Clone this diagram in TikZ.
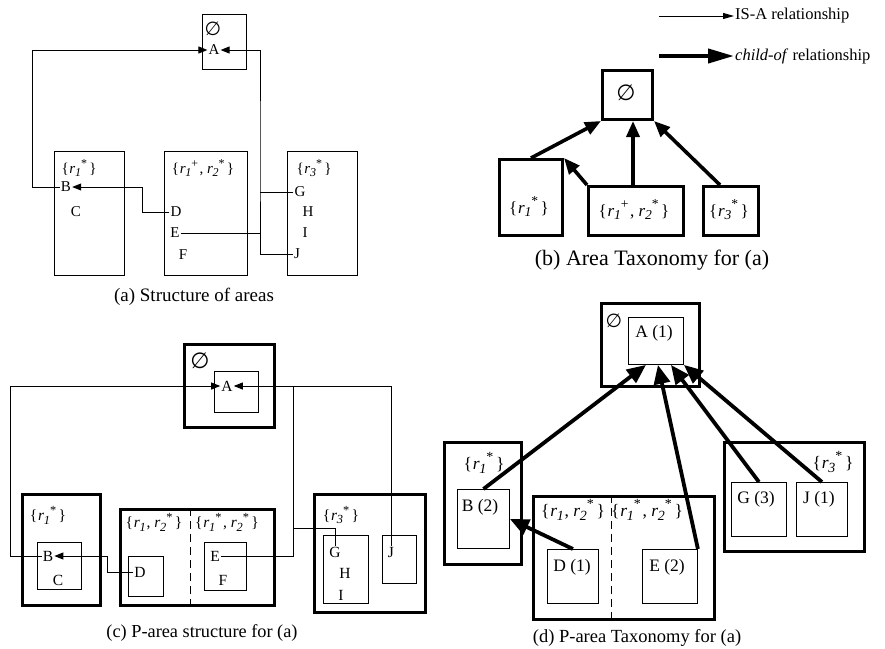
\documentclass[tikz,border=0pt]{standalone}
\usepackage{fontspec}
\setmainfont{Liberation Serif}
\newfontfamily\symfont{DejaVu Sans}
\usetikzlibrary{arrows.meta}
\newcommand\rsub[1]{\raisebox{-0.45ex}{\scalebox{0.8}{\textit{#1}}}}
\newcommand\rsup[1]{\raisebox{0.95ex}{\scalebox{0.8}{#1}}}
\newcommand\rr[2]{\textit{r}\kern-0.02em\rlap{\rsub{#1}}\kern0.4em\rsup{#2}\kern0.1em}
\newcommand\rn[1]{\textit{r}\kern-0.02em\rsub{#1}\kern0.05em}
\newcommand\lb{\{\kern0.05em}
\newcommand\rb{\kern0.05em\}}
\newcommand\nullset[1]{{\symfont\fontsize{#1}{#1}\selectfont ∅}}
\newcommand\fa{\fontsize{15}{18}\selectfont}
\newcommand\fb{\fontsize{17}{20}\selectfont}
\newcommand\fc{\fontsize{15.5}{18}\selectfont}
\newcommand\fd{\fontsize{17.5}{20}\selectfont}
\newcommand\fleg{\fontsize{16.5}{20}\selectfont}
\begin{document}
\begin{tikzpicture}[x=1pt,y=-1pt,
  tbox/.style={draw, line width=0.9pt, inner sep=0pt, anchor=north west},
  kbox/.style={draw, line width=3pt, inner sep=0pt, anchor=north west},
  la/.style={inner sep=1pt, font=\fa},
  lb/.style={inner sep=1pt, font=\fb},
  lc/.style={inner sep=1pt, font=\fc},
  ld/.style={inner sep=1pt, font=\fd},
  capt/.style={inner sep=1pt, font=\fontsize{#1}{#1}\selectfont},
  isa/.style={line width=0.9pt, -{Triangle[length=9pt,width=7pt]}},
  link/.style={line width=0.9pt},
  childof/.style={line width=3.6pt, -{Triangle[length=16pt,width=13pt]}},
  childofd/.style={line width=3.8pt, -{Triangle[length=19pt,width=16pt]}},
  sep/.style={line width=0.9pt, dash pattern=on 8pt off 5pt}]
\fill[white] (0,0) rectangle (885,648);
\useasboundingbox (0,0) rectangle (885,648);

% ---------------- (a)
\node[tbox, minimum width=44pt, minimum height=55pt] (aEb) at (202,14) {};
\node[inner sep=0pt] (aN) at (213,29) {\nullset{19}};
\node[la] (aA) at (214,50) {A};
\node[tbox, minimum width=70pt, minimum height=124pt] (a1) at (54,151) {};
\node[la] (a1l) at (79,168) {\lb\rr{1}{*}\rb};
\node[la] (aB) at (66,187) {B};
\node[la] (aC) at (76,212) {C};
\node[tbox, minimum width=83pt, minimum height=124pt] (a2) at (164,151) {};
\node[la] (a2l) at (203,168) {\lb\rr{1}{+}, \rr{2}{*}\rb};
\node[la] (aD) at (176,212) {D};
\node[la] (aE) at (175,233) {E};
\node[la] (aF) at (183,255) {F};
\node[tbox, minimum width=70pt, minimum height=124pt] (a3) at (287,151) {};
\node[la] (a3l) at (314,168) {\lb\rr{3}{*}\rb};
\node[la] (aG) at (300,192) {G};
\node[la] (aH) at (308,212) {H};
\node[la] (aI) at (305,233) {I};
\node[la] (aJ) at (297,254) {J};
\coordinate (aV) at (260,150);
\draw[isa] (aB.west) -- ++(-27,0) |- (aA.west);
\draw[isa] (aJ.west) -| (aV) |- (aA.east);
\draw[link] (aG.west) -- (aG.west -| aV);
\draw[link] (aE.east) -- (aE.east -| aV);
\draw[isa] (aD.west) -- ++(-27,0) |- (aB.east);
\node[capt=19] (acap) at (194,297) {(a) Structure of areas};

% ---------------- legend
\node[anchor=west, inner sep=1pt, font=\fleg] (lIsa) at (734,16) {IS-A relationship};
\coordinate (lIsaS) at (659,16);
\draw[line width=0.9pt, -{Triangle[length=11pt,width=6pt]}] (lIsaS) -- (lIsa.west);
\node[anchor=west, inner sep=1pt, font=\fleg] (lCh) at (734,56) {\textit{child-of} relationship};
\coordinate (lChS) at (659,56);
\draw[line width=4pt, -{Triangle[length=26pt,width=14pt]}] (lChS) -- (lCh.west);

% ---------------- (b)
\node[kbox, minimum width=50pt, minimum height=49pt] (bE) at (601,69) {};
\node[inner sep=0pt] (bN) at (626,93) {\nullset{22}};
\node[kbox, minimum width=63pt, minimum height=76pt] (b1) at (498,158) {};
\node[lb] (b1l) at (529,207) {\lb\rr{1}{*}\rb};
\node[kbox, minimum width=95pt, minimum height=49pt] (b2) at (587,185) {};
\node[lb] (b2l) at (634,210) {\lb\rr{1}{+}, \rr{2}{*}\rb};
\node[kbox, minimum width=55pt, minimum height=49pt] (b3) at (702,185) {};
\node[lb] (b3l) at (729,210) {\lb\rr{3}{*}\rb};
\draw[childof] (b1.north) -- (bE.south west);
\draw[childof] ([xshift=-3pt]b2.north) -- ([xshift=-3pt]b2.north |- bE.south);
\draw[childof] ([xshift=-11pt]b3.north) -- (bE.south east);
\draw[childof] (b2.north west) -- (b1.north east);
\node[capt=22] (bcap) at (652,260) {(b) Area Taxonomy for (a)};

% ---------------- (c)
\node[kbox, minimum width=90pt, minimum height=83pt] (cEb) at (183,343) {};
\node[inner sep=0pt] (cN) at (200,361) {\nullset{22}};
\node[tbox, minimum width=44pt, minimum height=41pt] (cAb) at (214,371) {};
\node[lc] (cA) at (227,386) {A};
\node[kbox, minimum width=78pt, minimum height=111pt] (c1) at (21,493) {};
\node[lc] (c1l) at (48,515) {\lb\rr{1}{*}\rb};
\node[tbox, minimum width=44pt, minimum height=47pt] (cBb) at (37,542) {};
\node[lc] (cB) at (48,556) {B};
\node[lc] (cC) at (58,580) {C};
\node[kbox, minimum width=154pt, minimum height=96pt] (c2) at (119,508) {};
\coordinate (cd1) at (190,508);
\coordinate (cd2) at (190,608);
\draw[sep] (cd1) -- (cd2);
\node[lc] (c2l) at (154,522) {\lb\rn{1}, \rr{2}{*}\rb};
\node[lc] (c2r) at (227,522) {\lb\rr{1}{*}, \rr{2}{*}\rb};
\node[tbox, minimum width=35pt, minimum height=40pt] (cDb) at (128,556) {};
\node[lc] (cD) at (140,572) {D};
\node[tbox, minimum width=42pt, minimum height=48pt] (cEFb) at (204,542) {};
\node[lc] (cE) at (215,556) {E};
\node[lc] (cF) at (223,580) {F};
\node[kbox, minimum width=111pt, minimum height=118pt] (c3) at (313,493) {};
\node[lc] (c3l) at (341,515) {\lb\rr{3}{*}\rb};
\node[tbox, minimum width=45pt, minimum height=68pt] (cGb) at (323,535) {};
\node[lc] (cG) at (335,552) {G};
\node[lc] (cH) at (345,573) {H};
\node[lc] (cI) at (341,595) {I};
\node[tbox, minimum width=34pt, minimum height=48pt] (cJb) at (382,535) {};
\node[lc] (cJ) at (391,552) {J};
\coordinate (cV) at (293,450);
\coordinate (cGk) at (293,528);
\draw[isa] (cB.west) -- ++(-31,0) |- (cA.west);
\draw[isa] (cJ.north) |- (cA.east);
\draw[link] (cE.east) -| (cA.east -| cV);
\draw[link] (cG.north) |- (cGk);
\draw[isa] (cD.west) -- ++(-26,0) |- (cB.east);
\node[capt=18.3] (ccap) at (202,633) {(c) P-area structure for (a)};

% ---------------- (d)
\node[kbox, minimum width=98pt, minimum height=83pt] (dEb) at (600,302) {};
\node[inner sep=0pt] (dN) at (614,321) {\nullset{19}};
\node[tbox, minimum width=55pt, minimum height=47pt] (dA) at (628,317) {};
\node[ld] (dAl) at (654,333) {A (1)};
\node[kbox, minimum width=77pt, minimum height=122pt] (d1) at (443,441) {};
\node[ld] (d1l) at (484,463) {\lb\rr{1}{*}\rb};
\node[tbox, minimum width=52pt, minimum height=59pt] (dB) at (457,489) {};
\node[ld] (dBl) at (480,507) {B (2)};
\node[kbox, minimum width=181pt, minimum height=123pt] (d2) at (532,495) {};
\coordinate (dd1) at (611,495);
\coordinate (dd2) at (611,622);
\draw[sep] (dd1) -- (dd2);
\node[ld] (d2l) at (573,510) {\lb\rn{1}, \rr{2}{*}\rb};
\node[ld] (d2r) at (647,510) {\lb\rr{1}{*}, \rr{2}{*}\rb};
\node[tbox, minimum width=51pt, minimum height=54pt] (dD) at (547,549) {};
\node[ld] (dDl) at (572,567) {D (1)};
\node[tbox, minimum width=55pt, minimum height=54pt] (dE) at (642,549) {};
\node[ld] (dEl) at (667,567) {E (2)};
\node[kbox, minimum width=140pt, minimum height=109pt] (d3) at (723,441) {};
\node[ld] (d3l) at (833,462) {\lb\rr{3}{*}\rb};
\node[tbox, minimum width=55pt, minimum height=54pt] (dG) at (731,482) {};
\node[ld] (dGl) at (756,499) {G (3)};
\node[tbox, minimum width=51pt, minimum height=54pt] (dJ) at (796,482) {};
\node[ld] (dJl) at (819,499) {J (1)};
\draw[childofd] (dB.north) -- ([xshift=-10pt]dA.south);
\draw[childofd] (dD.north) -- (dB.east);
\draw[childofd] (dE.north east) -- ([xshift=2pt]dA.south);
\draw[childofd] (dG.north) -- ([xshift=15pt]dA.south);
\draw[childofd] (dJ.north) -- (dA.south east);
\node[capt=18.5] (dcap) at (637,638) {(d) P-area Taxonomy for (a)};
\end{tikzpicture}
\end{document}
